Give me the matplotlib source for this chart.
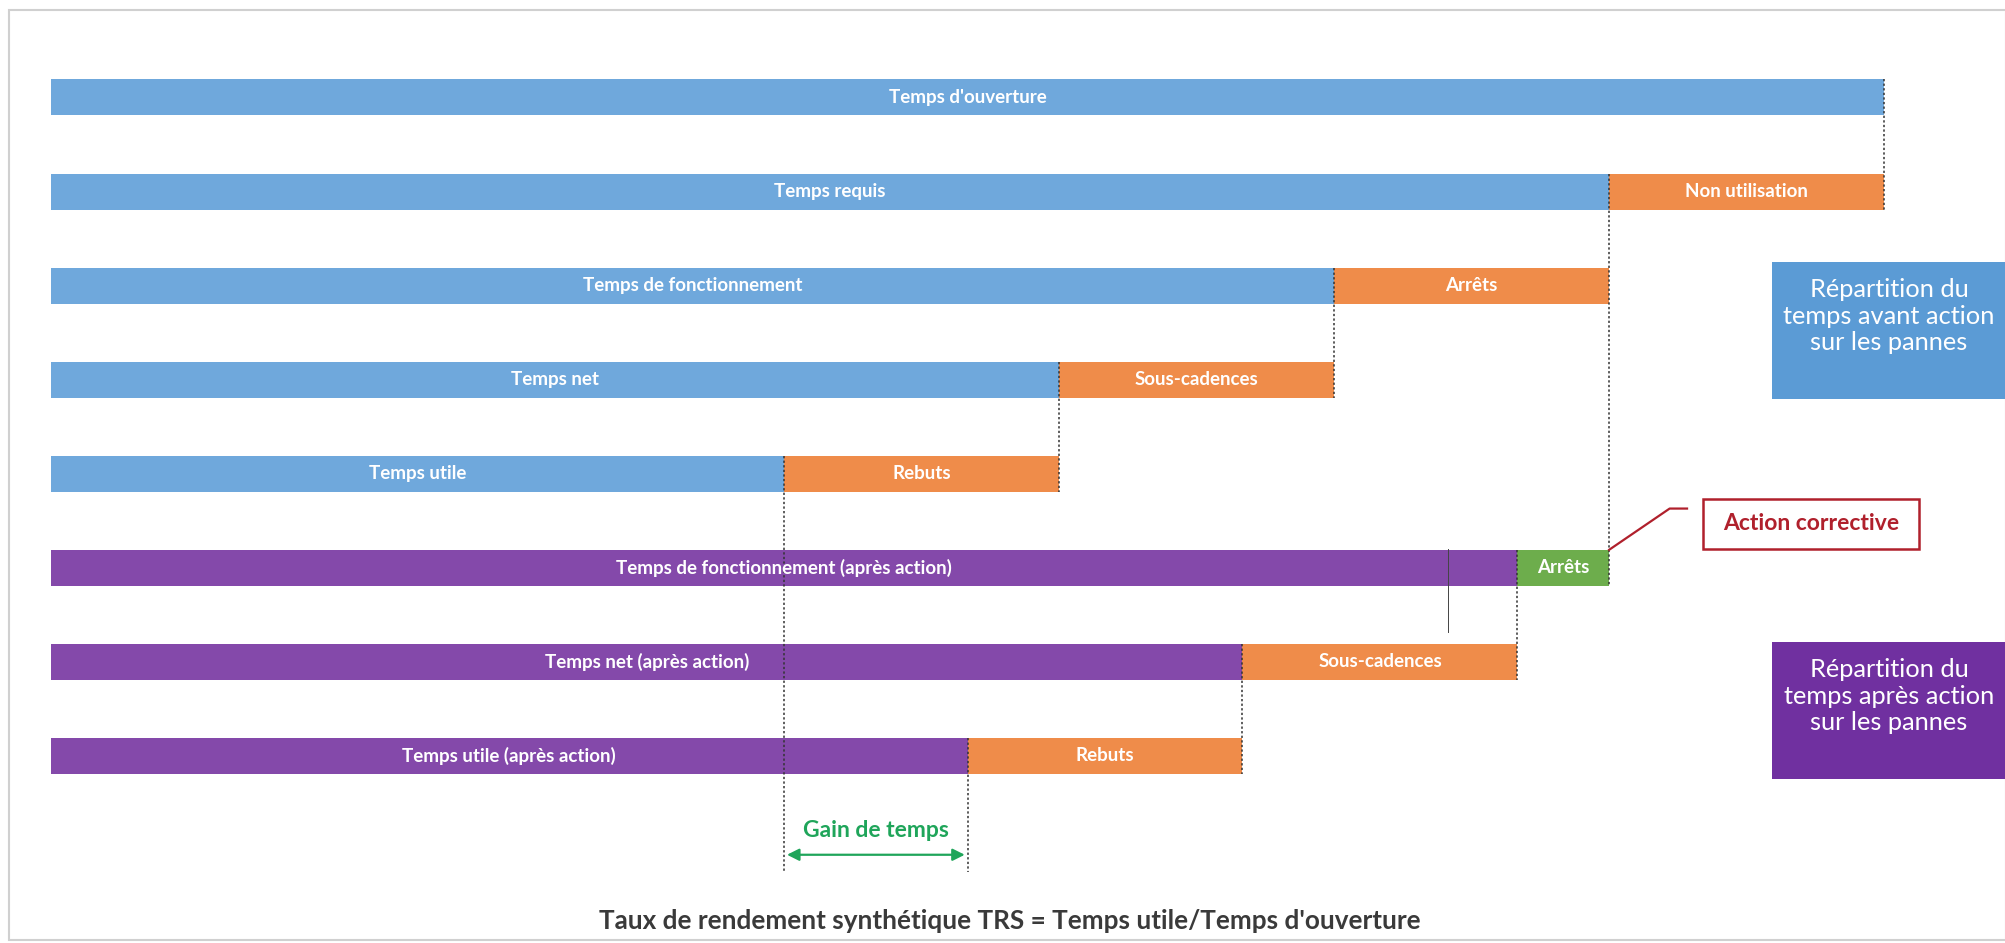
import matplotlib.pyplot as plt
from matplotlib.patches import Rectangle

# TRS time breakdown (units: % of opening time)
row_labels = ["Temps d'ouverture", "Temps requis", "Temps de fonctionnement",
              "Temps net", "Temps utile",
              "Temps de fonctionnement (après action)",
              "Temps net (après action)", "Temps utile (après action)"]
main_values = [100, 85, 70, 55, 40, 80, 65, 50]
loss_labels = ["", "Non utilisation", "Arrêts", "Sous-cadences", "Rebuts",
               "Arrêts", "Sous-cadences", "Rebuts"]
loss_values = [0, 15, 15, 15, 15, 5, 15, 15]
after_action = [False, False, False, False, False, True, True, True]

BLUE = "#6FA8DC"
PURPLE = "#8449AA"
ORANGE = "#EF8C4A"
GREEN = "#6DAD4C"
RED = "#B0202C"
FONT = "Lato"
H = 0.383

fig = plt.figure(figsize=(20.06, 9.43), dpi=100)
ax = fig.add_axes([0, 0, 1, 1])
ax.set_xlim(-2.78, 106.65)
ax.set_ylim(8.988, -1.036)
ax.axis("off")

rows = list(range(len(row_labels)))
totals = [m + l for m, l in zip(main_values, loss_values)]
main_colors = [PURPLE if a else BLUE for a in after_action]
loss_colors = [GREEN if (a and lab == "Arrêts") else ORANGE
               for a, lab in zip(after_action, loss_labels)]

ax.barh(rows, main_values, height=H, color=main_colors, zorder=2)
ax.barh(rows, loss_values, left=main_values, height=H, color=loss_colors, zorder=2)

for r in rows:
    ax.text(main_values[r] / 2, r, row_labels[r], ha="center", va="center",
            color="white", fontsize=13.5, fontweight="bold", family=FONT, zorder=4)
    if loss_values[r]:
        ax.text(main_values[r] + loss_values[r] / 2, r, loss_labels[r],
                ha="center", va="center", color="white", fontsize=13.5,
                fontweight="bold", family=FONT, zorder=4)

# dotted guides: end of each row lines up with the bar above it
dot = dict(color="#333333", lw=1.1, linestyle=(0, (1.5, 1.5)), zorder=3)
for r in rows[1:]:
    if r == 5:
        continue
    end_row = 5 if r == 2 else r
    ax.plot([totals[r]] * 2, [r - 1 - H / 2, end_row + H / 2], **dot)

# gain de temps guides
gain_bottom = 8.23
ax.plot([main_values[4]] * 2, [4 - H / 2, gain_bottom], **dot)
ax.plot([main_values[7]] * 2, [7 - H / 2, gain_bottom], **dot)

# stray thin line from the original drawing
ax.plot([76.2, 76.2], [4.80, 5.68], color="#444444", lw=0.7, zorder=3)

# Gain de temps arrow
ax.annotate("", xy=(main_values[7], 8.05), xytext=(main_values[4], 8.05),
            arrowprops=dict(arrowstyle="<|-|>", color="#1FA55A", lw=1.6,
                            mutation_scale=18), zorder=5)
ax.text((main_values[4] + main_values[7]) / 2, 7.79, "Gain de temps",
        ha="center", va="center", color="#1FA55A", fontsize=16.5,
        fontweight="bold", family=FONT)

# Action corrective callout
ax.plot([85, 88.3, 89.25], [5 - H / 2, 4.37, 4.37], color=RED, lw=1.6, zorder=5)
fig.patches.append(Rectangle((1703 / 2006, 1 - 549 / 943), 216 / 2006, 50 / 943,
                             transform=fig.transFigure, facecolor="white",
                             edgecolor=RED, lw=1.8))
fig.text(1811 / 2006, 1 - 524 / 943, "Action corrective", ha="center", va="center",
         color=RED, fontsize=16.5, fontweight="bold", family=FONT)

# side legend boxes
for top, bot, col, txt in [(262, 399, "#5B9BD5", "Répartition du\ntemps avant action\nsur les pannes"),
                           (642, 779, "#7030A0", "Répartition du\ntemps après action\nsur les pannes")]:
    fig.patches.append(Rectangle((1772 / 2006, 1 - bot / 943), 234 / 2006,
                                 (bot - top) / 943, transform=fig.transFigure,
                                 facecolor=col, edgecolor="none"))
    fig.text(1889 / 2006, 1 - (top + 54) / 943, txt, ha="center", va="center",
             color="white", fontsize=18.3, family=FONT, linespacing=1.2)

# frame
fig.patches.append(Rectangle((9 / 2006, 3 / 943), 1997 / 2006, 930 / 943,
                             transform=fig.transFigure, facecolor="none",
                             edgecolor="#D0D0D0", lw=1.5, zorder=0))

fig.text(1010 / 2006, 1 - 921 / 943,
         "Taux de rendement synthétique TRS = Temps utile/Temps d'ouverture",
         ha="center", va="center", color="#3A3A3A", fontsize=18.8,
         fontweight="bold", family=FONT)

fig.savefig("out.png", dpi=100)
